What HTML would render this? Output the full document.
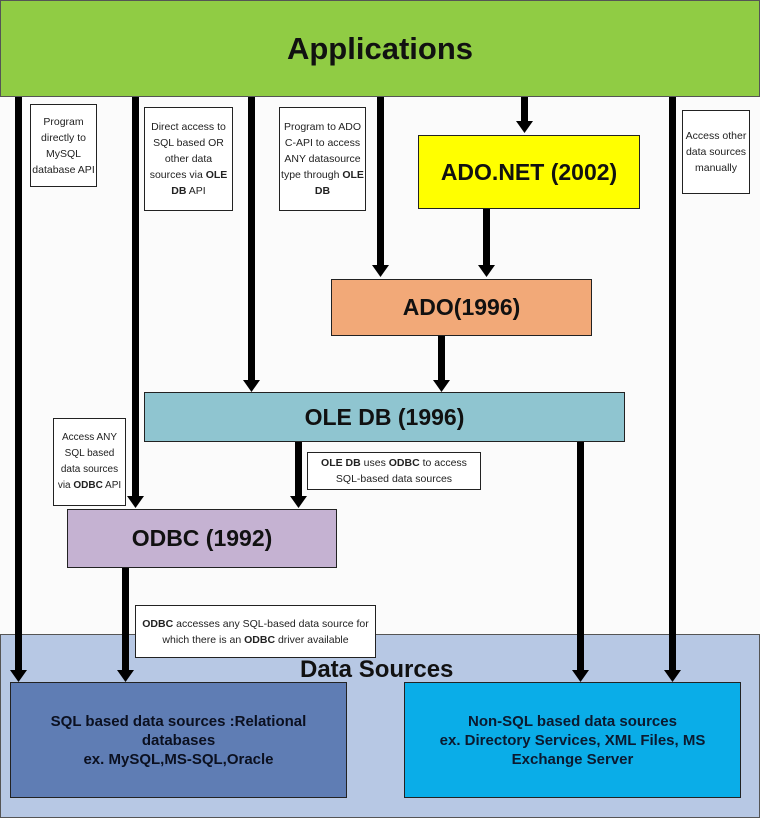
<!DOCTYPE html>
<html><head><meta charset="utf-8"><style>
body{margin:0;width:760px;height:818px;position:relative;background:#fbfbfb;font-family:"Liberation Sans",sans-serif;overflow:hidden}
.b{position:absolute;box-sizing:border-box;border:1px solid #222;display:flex;align-items:center;justify-content:center;text-align:center;font-weight:bold;color:#111}
.n{position:absolute;box-sizing:border-box;border:1px solid #222;background:#fff;text-align:center;font-size:10.5px;line-height:16px;color:#222;display:flex;align-items:center;justify-content:center;padding:0 1px}
svg{position:absolute;left:0;top:0}
</style></head><body>
<div class="b" style="left:0;top:634px;width:760px;height:184px;background:#b7c8e4;border-color:#555"></div>
<div style="position:absolute;left:300px;top:656px;font-weight:bold;font-size:24px;color:#111">Data Sources</div>
<div class="b" style="left:10px;top:682px;width:337px;height:116px;background:#5f7db4;font-size:15px;line-height:19px;color:#0b1020;padding:0 22px"><span>SQL based data sources :Relational databases<br>ex. MySQL,MS-SQL,Oracle</span></div>
<div class="b" style="left:404px;top:682px;width:337px;height:116px;background:#0aade8;font-size:15px;line-height:19px;color:#0b1a30;padding:0 18px"><span>Non-SQL based data sources<br>ex. Directory Services, XML Files, MS Exchange Server</span></div>
<div class="b" style="left:0;top:0;width:760px;height:97px;background:#90cc44;font-size:31px;border-color:#555">Applications</div>
<div class="b" style="left:418px;top:135px;width:222px;height:74px;background:#ffff00;font-size:23px">ADO.NET (2002)</div>
<div class="b" style="left:331px;top:279px;width:261px;height:57px;background:#f2a978;font-size:23px">ADO(1996)</div>
<div class="b" style="left:144px;top:392px;width:481px;height:50px;background:#8fc5d0;font-size:23px">OLE DB (1996)</div>
<div class="b" style="left:67px;top:509px;width:270px;height:59px;background:#c5b2d2;font-size:23px">ODBC (1992)</div>
<svg width="760" height="818">
<g fill="#000">
<rect x="15" y="97" width="7" height="575"/><polygon points="10,670 27,670 18.5,682"/>
<rect x="132" y="97" width="7" height="401"/><polygon points="127,496 144,496 135.5,508"/>
<rect x="248" y="97" width="7" height="285"/><polygon points="243,380 260,380 251.5,392"/>
<rect x="377" y="97" width="7" height="170"/><polygon points="372,265 389,265 380.5,277"/>
<rect x="521" y="97" width="7" height="26"/><polygon points="516,121 533,121 524.5,133"/>
<rect x="669" y="97" width="7" height="575"/><polygon points="664,670 681,670 672.5,682"/>
<rect x="483" y="209" width="7" height="58"/><polygon points="478,265 495,265 486.5,277"/>
<rect x="438" y="336" width="7" height="46"/><polygon points="433,380 450,380 441.5,392"/>
<rect x="295" y="442" width="7" height="56"/><polygon points="290,496 307,496 298.5,508"/>
<rect x="122" y="568" width="7" height="104"/><polygon points="117,670 134,670 125.5,682"/>
<rect x="577" y="442" width="7" height="230"/><polygon points="572,670 589,670 580.5,682"/>
</g></svg>
<div class="n" style="left:30px;top:104px;width:67px;height:83px"><span>Program directly to MySQL database API</span></div>
<div class="n" style="left:144px;top:107px;width:89px;height:104px"><span>Direct access to SQL based OR other data sources via <b>OLE DB</b> API</span></div>
<div class="n" style="left:279px;top:107px;width:87px;height:104px"><span>Program to ADO C-API to access ANY datasource type through <b>OLE DB</b></span></div>
<div class="n" style="left:682px;top:110px;width:68px;height:84px"><span>Access other data sources manually</span></div>
<div class="n" style="left:53px;top:418px;width:73px;height:88px;font-size:10px"><span>Access ANY SQL based data sources via <b>ODBC</b> API</span></div>
<div class="n" style="left:307px;top:452px;width:174px;height:38px"><span><b>OLE DB</b> uses <b>ODBC</b> to access<br>SQL-based data sources</span></div>
<div class="n" style="left:135px;top:605px;width:241px;height:53px"><span><b>ODBC</b> accesses any SQL-based data source for which there is an <b>ODBC</b> driver available</span></div>
</body></html>
